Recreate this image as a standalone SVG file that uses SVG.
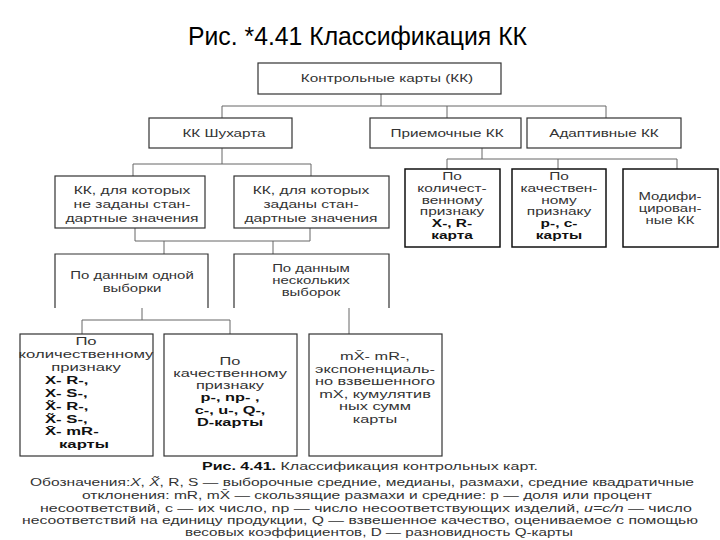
<svg xmlns="http://www.w3.org/2000/svg" width="720" height="540" viewBox="0 0 720 540">
<style>
.t{font-family:"Liberation Sans",Arial,sans-serif;font-size:11.5px;fill:#333;text-anchor:middle}
.sm{font-size:10.3px}
.s{text-anchor:start}
.b{font-weight:bold;fill:#111}
.box{fill:#fff;stroke:#333;stroke-width:1.2}
.dark{stroke:#111;stroke-width:1.5}
.open{fill:#fff;stroke:#333;stroke-width:1.2}
.c{fill:none;stroke:#666;stroke-width:1}
.n{font-family:"Liberation Sans",Arial,sans-serif;font-size:11.5px;fill:#333}
</style>
<rect width="720" height="540" fill="#fff"/>
<text x="188" y="45" font-family="Liberation Sans,Arial,sans-serif" font-size="26" fill="#000" textLength="339" lengthAdjust="spacingAndGlyphs">Рис. *4.41 Классификация КК</text>

<g id="connectors">
<path class="c" d="M381,94V106M222,106H606M222,106V118M447,106V118M606,106V118"/>
<path class="c" d="M222,148V164M133,164H311M133,164V176M311,164V176"/>
<path class="c" d="M482,148V159M447,159H677M447,159V169M558,159V169M677,159V169"/>
<path class="c" d="M135,228V241M310,228V241M135,241H310M164,241V254M273,241V254"/>
<path class="c" d="M142,308V320M82,320H230M82,320V334M230,320V334M349,308V334"/>
</g>

<g id="n-top">
<rect class="box" x="258" y="63" width="243" height="31"/>
<g transform="translate(387 0) scale(1.33 1)"><text class="t" y="82">Контрольные карты (КК)</text></g>
</g>

<g id="n-shukhart">
<rect class="box" x="149" y="118" width="143" height="30"/>
<g transform="translate(224 0) scale(1.33 1)"><text class="t" y="137">КК Шухарта</text></g>
</g>

<g id="n-priem">
<rect class="box" x="370" y="118" width="151" height="30"/>
<g transform="translate(447 0) scale(1.33 1)"><text class="t" y="137">Приемочные КК</text></g>
</g>

<g id="n-adapt">
<rect class="box" x="527" y="118" width="154" height="30"/>
<g transform="translate(604 0) scale(1.33 1)"><text class="t" y="137">Адаптивные КК</text></g>
</g>

<g id="n-nostd">
<rect class="box" x="55" y="176" width="150" height="52"/>
<g transform="translate(132 0) scale(1.36 1)">
<text class="t" y="194">КК, для которых</text>
<text class="t" y="208">не заданы стан-</text>
<text class="t" y="222">дартные значения</text>
</g>
</g>

<g id="n-std">
<rect class="box" x="234" y="176" width="155" height="52"/>
<g transform="translate(311 0) scale(1.36 1)">
<text class="t" y="194">КК, для которых</text>
<text class="t" y="208">заданы стан-</text>
<text class="t" y="222">дартные значения</text>
</g>
</g>

<g id="n-acc-quant">
<rect class="box dark" x="405" y="169" width="95" height="78"/>
<g transform="translate(452 0) scale(1.5 1)">
<text class="t sm" y="180">По</text>
<text class="t sm" y="192">количест-</text>
<text class="t sm" y="204">венному</text>
<text class="t sm" y="215">признаку</text>
<text class="t sm b" y="227">X-, R-</text>
<text class="t sm b" y="239">карта</text>
</g>
</g>

<g id="n-acc-qual">
<rect class="box dark" x="512" y="169" width="94" height="78"/>
<g transform="translate(559 0) scale(1.5 1)">
<text class="t sm" y="180">По</text>
<text class="t sm" y="192">качествен-</text>
<text class="t sm" y="204">ному</text>
<text class="t sm" y="215">признаку</text>
<text class="t sm b" y="227">p-, c-</text>
<text class="t sm b" y="239">карты</text>
</g>
</g>

<g id="n-modified">
<rect class="box dark" x="623" y="169" width="95" height="78"/>
<g transform="translate(670 0) scale(1.45 1)">
<text class="t sm" y="200">Модифи-</text>
<text class="t sm" y="212">цирован-</text>
<text class="t sm" y="224">ные КК</text>
</g>
</g>

<g id="n-one">
<path class="open" d="M55,308V254H208V308"/>
<g transform="translate(132 0) scale(1.3 1)">
<text class="t" y="279">По данным одной</text>
<text class="t" y="292">выборки</text>
</g>
</g>

<g id="n-several">
<path class="open" d="M234,308V254H389V308"/>
<g transform="translate(311 0) scale(1.3 1)">
<text class="t" y="272">По данным</text>
<text class="t" y="284">нескольких</text>
<text class="t" y="296">выборок</text>
</g>
</g>

<g id="n-quant">
<rect class="box" x="20" y="334" width="133" height="122"/>
<g transform="translate(86 0) scale(1.45 1)">
<text class="t" y="345">По</text>
<text class="t" y="358">количественному</text>
<text class="t" y="371">признаку</text>
</g>
<g transform="translate(45 0) scale(1.45 1)">
<text class="t b s" y="384">X- R-,</text>
<text class="t b s" y="397">X- S-,</text>
<text class="t b s" y="410">X̃- R-,</text>
<text class="t b s" y="423">X̃- S-,</text>
<text class="t b s" y="435">X̄- mR-</text>
</g>
<g transform="translate(84 0) scale(1.45 1)">
<text class="t b" y="448">карты</text>
</g>
</g>

<g id="n-qual">
<rect class="box" x="164" y="334" width="133" height="122"/>
<g transform="translate(230 0) scale(1.42 1)">
<text class="t" y="365">По</text>
<text class="t" y="377">качественному</text>
<text class="t" y="389">признаку</text>
<text class="t b" y="401">p-, np- ,</text>
<text class="t b" y="414">c-, u-, Q-,</text>
<text class="t b" y="426">D-карты</text>
</g>
</g>

<g id="n-exp">
<rect class="box" x="309" y="334" width="133" height="122"/>
<g transform="translate(375 0) scale(1.42 1)">
<text class="t" y="360">mX̄- mR-,</text>
<text class="t" y="373">экспоненциаль-</text>
<text class="t" y="385">но взвешенного</text>
<text class="t" y="398">mX, кумулятив</text>
<text class="t" y="410">ных сумм</text>
<text class="t" y="423">карты</text>
</g>
</g>

<g id="caption">
<text class="n" x="202" y="470" textLength="336" lengthAdjust="spacingAndGlyphs"><tspan font-weight="bold" fill="#111">Рис. 4.41.</tspan> Классификация контрольных карт.</text>
<text class="n" x="30" y="486" textLength="664" lengthAdjust="spacingAndGlyphs">Обозначения:<tspan font-style="italic">X</tspan>, <tspan font-style="italic">X̃</tspan>, R, S — выборочные средние, медианы, размахи, средние квадратичные</text>
<text class="n" x="82" y="499" textLength="570" lengthAdjust="spacingAndGlyphs">отклонения: mR, mX̄ — скользящие размахи и средние: p — доля или процент</text>
<text class="n" x="40" y="512" textLength="652" lengthAdjust="spacingAndGlyphs">несоответствий, c — их число, np — число несоответствующих изделий, <tspan font-style="italic">u=c/n</tspan> — число</text>
<text class="n" x="22" y="524" textLength="676" lengthAdjust="spacingAndGlyphs">несоответствий на единицу продукции, Q — взвешенное качество, оцениваемое с помощью</text>
<text class="n" x="185" y="536" textLength="388" lengthAdjust="spacingAndGlyphs">весовых коэффициентов, D — разновидность Q-карты</text>
</g>
</svg>
